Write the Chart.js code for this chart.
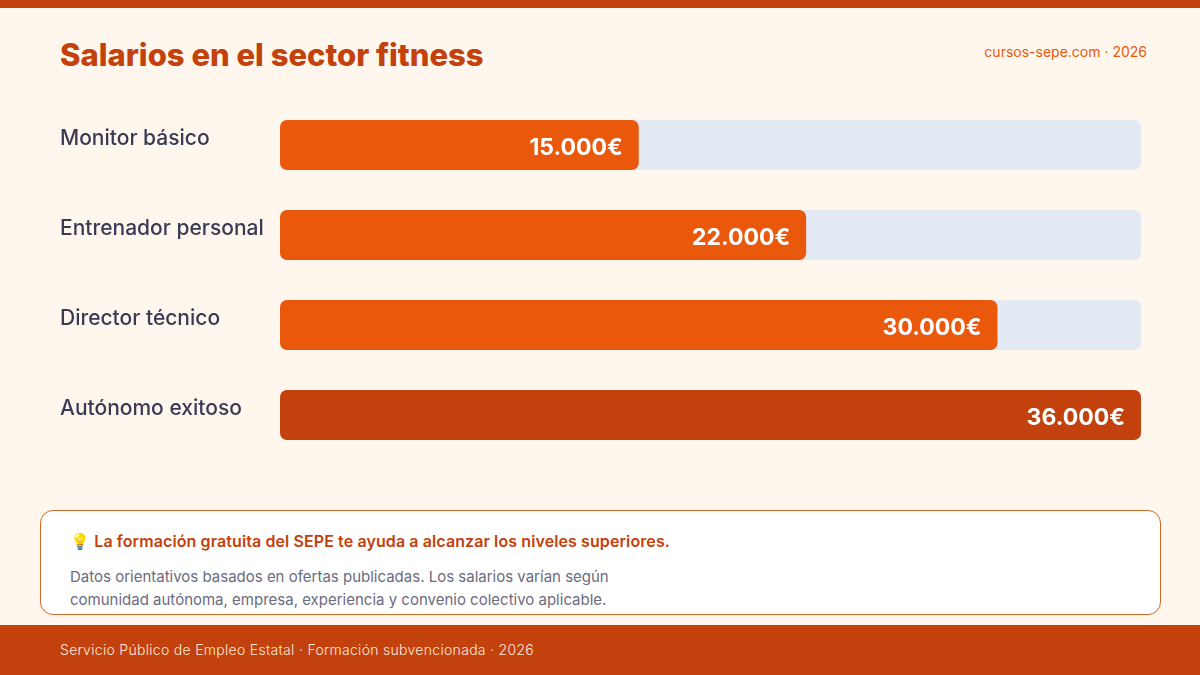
<!DOCTYPE html>
<html lang="es">
<head>
<meta charset="utf-8">
<title>Salarios en el sector fitness</title>
<script src="https://cdn.jsdelivr.net/npm/chart.js"></script>
<style>
  html, body { margin: 0; padding: 0; }
  body {
    width: 1200px; height: 675px; position: relative; overflow: hidden;
    background: #fff7ed; font-family: Inter, "Noto Sans", sans-serif;
  }
  .topbar { position: absolute; left: 0; top: 0; width: 1200px; height: 8px; background: #c2410c; }
  .title { position: absolute; left: 60px; top: 36px; font-size: 31px; font-weight: 800; color: #c2410c; letter-spacing: 0; }
  .site { position: absolute; right: 53px; top: 43px; font-size: 14px; color: #ea580c; }
  .chart-wrap { position: absolute; left: 60px; top: 100px; width: 1081px; height: 360px; }
  .note {
    position: absolute; left: 40px; top: 510px; width: 1121px; height: 105px;
    background: #ffffff; border: 1px solid #cf6a28; border-radius: 13px; box-sizing: border-box;
  }
  .note-head { position: absolute; left: 29px; top: 20px; font-size: 16px; font-weight: 600; color: #c2410c; letter-spacing: 0.1px; }
  .note-body { position: absolute; left: 29px; top: 54px; font-size: 15px; line-height: 23px; color: #6b6b7e; width: 590px; }
  .footer { position: absolute; left: 0; top: 625px; width: 1200px; height: 50px; background: #c2410c; }
  .footer span { position: absolute; left: 60px; top: 16px; font-size: 14px; color: #fde8d8; font-weight: 300; letter-spacing: 0.3px; }
</style>
</head>
<body>
<div class="topbar"></div>
<div class="title">Salarios en el sector fitness</div>
<div class="site">cursos-sepe.com · 2026</div>

<div class="chart-wrap"><canvas id="chart"></canvas></div>

<div class="note">
  <div class="note-head">💡 La formación gratuita del SEPE te ayuda a alcanzar los niveles superiores.</div>
  <div class="note-body">Datos orientativos basados en ofertas publicadas. Los salarios varían según comunidad autónoma, empresa, experiencia y convenio colectivo aplicable.</div>
</div>

<div class="footer"><span>Servicio Público de Empleo Estatal · Formación subvencionada · 2026</span></div>

<script>
const puestos = ['Monitor básico', 'Entrenador personal', 'Director técnico', 'Autónomo exitoso'];
const salarios = [15000, 22000, 30000, 36000];
const coloresBarra = ['#ea580c', '#ea580c', '#ea580c', '#c2410c'];
const salarioMax = 36000;
const fondo = puestos.map(() => salarioMax);

const fmtEuro = v => v.toLocaleString('de-DE') + '€';

// etiquetas de categoría a la izquierda y valores dentro de la barra
const etiquetas = {
  id: 'etiquetas',
  afterDatasetsDraw(chart) {
    const ctx = chart.ctx;
    const yScale = chart.scales.y;
    ctx.save();
    ctx.textBaseline = 'middle';
    ctx.fillStyle = '#3a3a55';
    ctx.font = '500 21px Inter, "Noto Sans", sans-serif';
    ctx.textAlign = 'left';
    puestos.forEach((p, i) => {
      ctx.fillText(p, 0, yScale.getPixelForValue(i) - 6);
    });
    const meta = chart.getDatasetMeta(1);
    ctx.fillStyle = '#ffffff';
    ctx.font = '700 23px Inter, "Noto Sans", sans-serif';
    ctx.textAlign = 'right';
    meta.data.forEach((bar, i) => {
      ctx.fillText(fmtEuro(salarios[i]), bar.x - 16, bar.y + 3);
    });
    ctx.restore();
  }
};

new Chart(document.getElementById('chart'), {
  type: 'bar',
  data: {
    labels: puestos,
    datasets: [
      {
        data: fondo,
        backgroundColor: '#e4eaf4',
        borderRadius: 7,
        borderSkipped: false,
        barPercentage: 1,
        categoryPercentage: 50 / 90,
        grouped: false,
        order: 2
      },
      {
        data: salarios,
        backgroundColor: coloresBarra,
        borderRadius: 7,
        borderSkipped: false,
        barPercentage: 1,
        categoryPercentage: 50 / 90,
        grouped: false,
        order: 1
      }
    ]
  },
  options: {
    indexAxis: 'y',
    responsive: true,
    maintainAspectRatio: false,
    animation: false,
    layout: { padding: { left: 220, right: 0, top: 0, bottom: 0 } },
    scales: {
      x: { display: false, min: 0, max: salarioMax },
      y: { display: false }
    },
    plugins: {
      legend: { display: false },
      tooltip: { enabled: false }
    }
  },
  plugins: [etiquetas]
});
</script>
</body>
</html>
